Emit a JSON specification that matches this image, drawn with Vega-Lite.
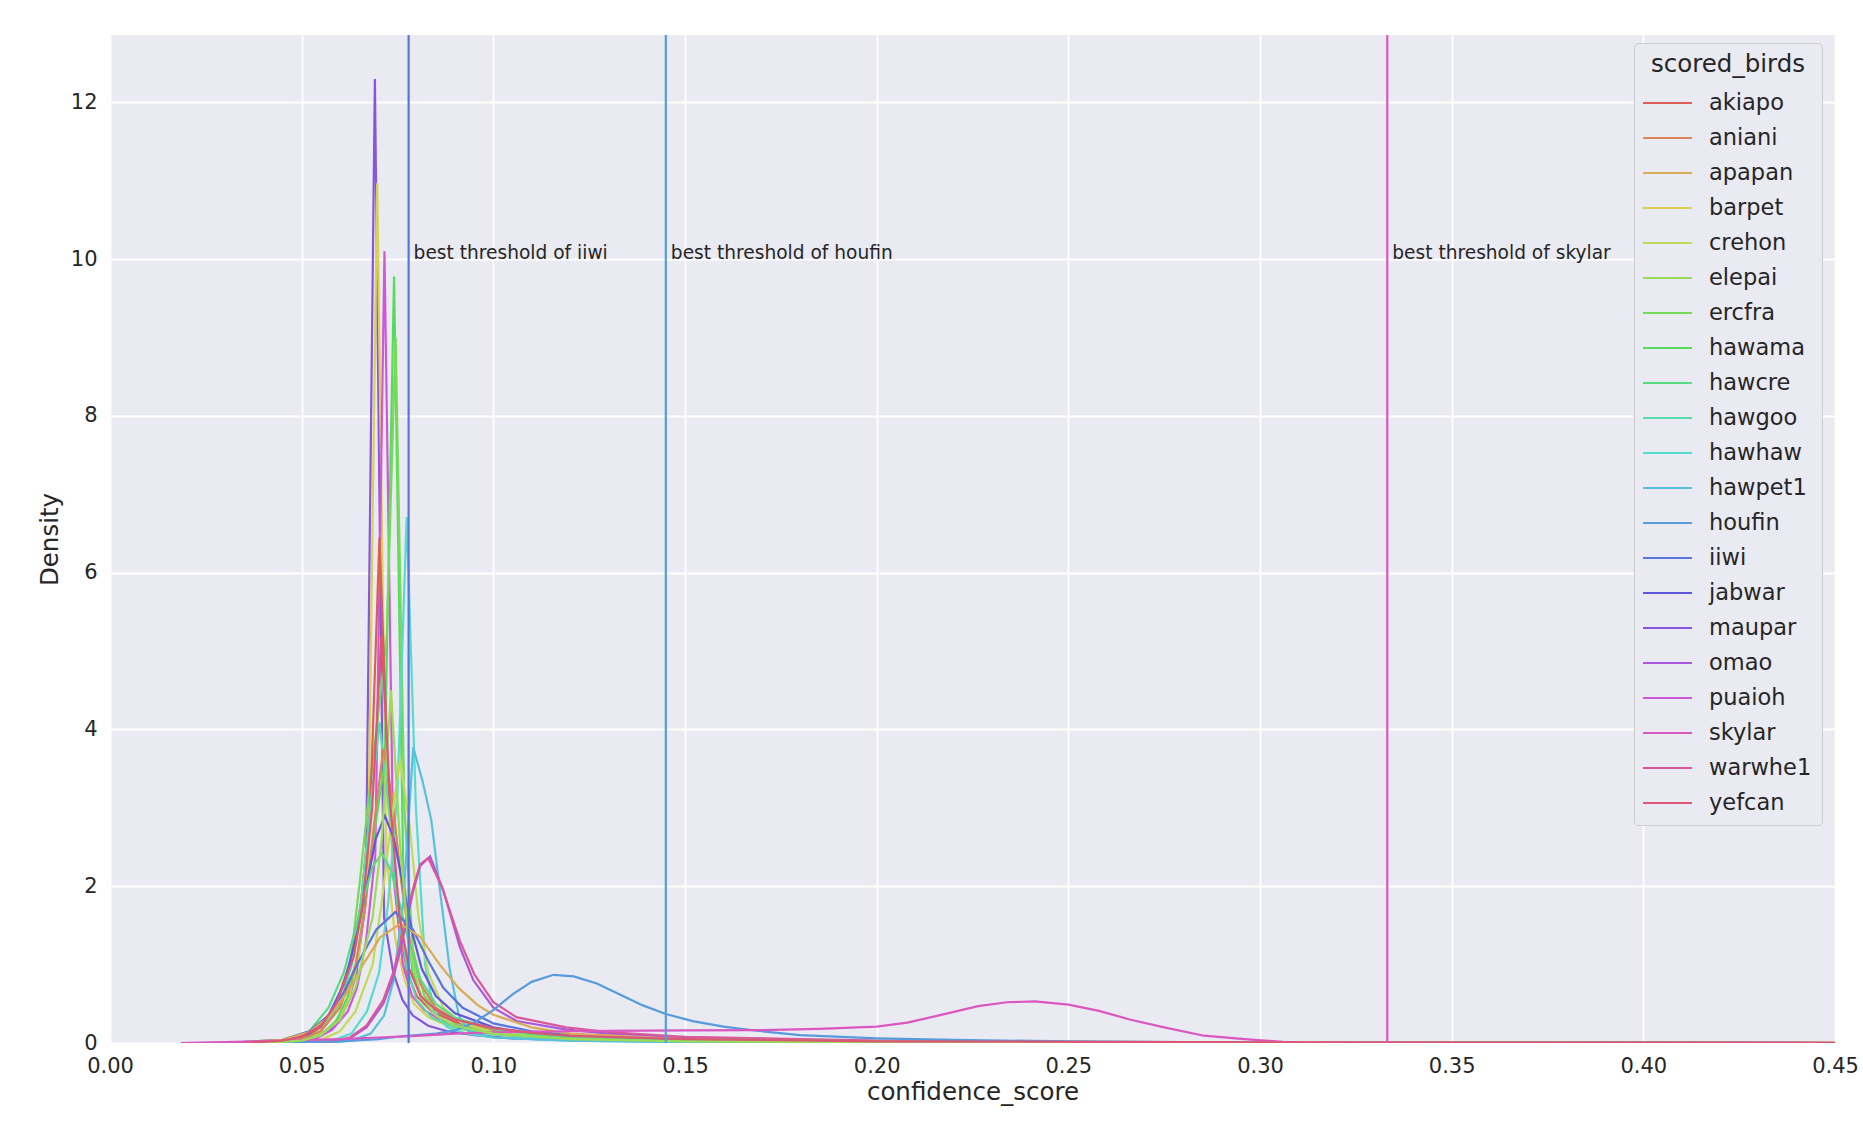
{
  "$schema": "https://vega.github.io/schema/vega-lite/v6.json",
  "width": 1725,
  "height": 1008,
  "autosize": {"type": "none"},
  "padding": {"left": 110, "top": 35, "right": 28, "bottom": 85},
  "background": "white",
  "config": {
    "font": "DejaVu Sans",
    "view": {"fill": "#eaeaf2", "stroke": null},
    "axis": {
      "domain": false, "ticks": false, "tickSize": 0,
      "gridColor": "white", "gridWidth": 1.8, "gridOpacity": 1,
      "labelColor": "#262626", "titleColor": "#262626",
      "labelFont": "DejaVu Sans", "titleFont": "DejaVu Sans",
      "labelFontSize": 21, "titleFontSize": 24.5, "titleFontWeight": "normal"
    }
  },
  "layer": [
    {
      "data": {"values": [
        {"b":"maupar","x":0.04,"y":0},{"b":"maupar","x":0.048,"y":0.02},{"b":"maupar","x":0.053,"y":0.06},{"b":"maupar","x":0.057,"y":0.15},{"b":"maupar","x":0.06,"y":0.3},{"b":"maupar","x":0.0619,"y":0.5},{"b":"maupar","x":0.0643,"y":0.9},{"b":"maupar","x":0.0667,"y":1.8},{"b":"maupar","x":0.0691,"y":12.3},{"b":"maupar","x":0.0715,"y":1.6},{"b":"maupar","x":0.0739,"y":0.9},{"b":"maupar","x":0.0763,"y":0.55},{"b":"maupar","x":0.079,"y":0.35},{"b":"maupar","x":0.083,"y":0.22},{"b":"maupar","x":0.088,"y":0.15},{"b":"maupar","x":0.095,"y":0.1},{"b":"maupar","x":0.105,"y":0.06},{"b":"maupar","x":0.12,"y":0.035},{"b":"maupar","x":0.15,"y":0.018},{"b":"maupar","x":0.2,"y":0.008},{"b":"maupar","x":0.3,"y":0.002},{"b":"maupar","x":0.45,"y":0},
        {"b":"barpet","x":0.04,"y":0},{"b":"barpet","x":0.048,"y":0.02},{"b":"barpet","x":0.053,"y":0.07},{"b":"barpet","x":0.057,"y":0.18},{"b":"barpet","x":0.06,"y":0.35},{"b":"barpet","x":0.0625,"y":0.6},{"b":"barpet","x":0.0649,"y":1.1},{"b":"barpet","x":0.0673,"y":2.3},{"b":"barpet","x":0.0697,"y":10.97},{"b":"barpet","x":0.0721,"y":2.4},{"b":"barpet","x":0.0745,"y":1.3},{"b":"barpet","x":0.0769,"y":0.8},{"b":"barpet","x":0.0793,"y":0.5},{"b":"barpet","x":0.083,"y":0.33},{"b":"barpet","x":0.088,"y":0.22},{"b":"barpet","x":0.095,"y":0.14},{"b":"barpet","x":0.105,"y":0.08},{"b":"barpet","x":0.12,"y":0.045},{"b":"barpet","x":0.15,"y":0.022},{"b":"barpet","x":0.2,"y":0.01},{"b":"barpet","x":0.3,"y":0.003},{"b":"barpet","x":0.45,"y":0},
        {"b":"puaioh","x":0.04,"y":0},{"b":"puaioh","x":0.049,"y":0.02},{"b":"puaioh","x":0.054,"y":0.06},{"b":"puaioh","x":0.058,"y":0.17},{"b":"puaioh","x":0.062,"y":0.4},{"b":"puaioh","x":0.0644,"y":0.7},{"b":"puaioh","x":0.0668,"y":1.3},{"b":"puaioh","x":0.0692,"y":2.4},{"b":"puaioh","x":0.0716,"y":10.1},{"b":"puaioh","x":0.074,"y":2.1},{"b":"puaioh","x":0.0764,"y":1.0},{"b":"puaioh","x":0.0788,"y":0.6},{"b":"puaioh","x":0.082,"y":0.42},{"b":"puaioh","x":0.086,"y":0.3},{"b":"puaioh","x":0.09,"y":0.23},{"b":"puaioh","x":0.1,"y":0.15},{"b":"puaioh","x":0.11,"y":0.1},{"b":"puaioh","x":0.12,"y":0.075},{"b":"puaioh","x":0.15,"y":0.04},{"b":"puaioh","x":0.2,"y":0.015},{"b":"puaioh","x":0.3,"y":0.004},{"b":"puaioh","x":0.45,"y":0},
        {"b":"hawama","x":0.04,"y":0},{"b":"hawama","x":0.05,"y":0.03},{"b":"hawama","x":0.055,"y":0.1},{"b":"hawama","x":0.059,"y":0.28},{"b":"hawama","x":0.0621,"y":0.6},{"b":"hawama","x":0.0645,"y":1.1},{"b":"hawama","x":0.0669,"y":1.9},{"b":"hawama","x":0.0693,"y":2.8},{"b":"hawama","x":0.0717,"y":3.6},{"b":"hawama","x":0.0741,"y":9.78},{"b":"hawama","x":0.0765,"y":2.2},{"b":"hawama","x":0.0789,"y":0.9},{"b":"hawama","x":0.082,"y":0.5},{"b":"hawama","x":0.086,"y":0.32},{"b":"hawama","x":0.09,"y":0.22},{"b":"hawama","x":0.1,"y":0.12},{"b":"hawama","x":0.12,"y":0.05},{"b":"hawama","x":0.15,"y":0.025},{"b":"hawama","x":0.2,"y":0.01},{"b":"hawama","x":0.3,"y":0.003},{"b":"hawama","x":0.45,"y":0},
        {"b":"ercfra","x":0.04,"y":0},{"b":"ercfra","x":0.048,"y":0.03},{"b":"ercfra","x":0.053,"y":0.12},{"b":"ercfra","x":0.058,"y":0.37},{"b":"ercfra","x":0.0626,"y":0.97},{"b":"ercfra","x":0.0652,"y":2.07},{"b":"ercfra","x":0.0676,"y":3.2},{"b":"ercfra","x":0.07,"y":4.2},{"b":"ercfra","x":0.0722,"y":5.2},{"b":"ercfra","x":0.0745,"y":9.0},{"b":"ercfra","x":0.0768,"y":3.0},{"b":"ercfra","x":0.079,"y":1.2},{"b":"ercfra","x":0.082,"y":0.6},{"b":"ercfra","x":0.086,"y":0.38},{"b":"ercfra","x":0.09,"y":0.26},{"b":"ercfra","x":0.1,"y":0.14},{"b":"ercfra","x":0.12,"y":0.06},{"b":"ercfra","x":0.15,"y":0.03},{"b":"ercfra","x":0.2,"y":0.012},{"b":"ercfra","x":0.3,"y":0.003},{"b":"ercfra","x":0.45,"y":0},
        {"b":"akiapo","x":0.035,"y":0},{"b":"akiapo","x":0.045,"y":0.02},{"b":"akiapo","x":0.05,"y":0.06},{"b":"akiapo","x":0.055,"y":0.2},{"b":"akiapo","x":0.059,"y":0.5},{"b":"akiapo","x":0.0631,"y":1.1},{"b":"akiapo","x":0.0655,"y":1.8},{"b":"akiapo","x":0.0679,"y":3.0},{"b":"akiapo","x":0.0703,"y":6.45},{"b":"akiapo","x":0.0727,"y":3.2},{"b":"akiapo","x":0.0751,"y":1.6},{"b":"akiapo","x":0.0775,"y":0.9},{"b":"akiapo","x":0.08,"y":0.6},{"b":"akiapo","x":0.084,"y":0.4},{"b":"akiapo","x":0.09,"y":0.27},{"b":"akiapo","x":0.1,"y":0.17},{"b":"akiapo","x":0.12,"y":0.08},{"b":"akiapo","x":0.15,"y":0.04},{"b":"akiapo","x":0.2,"y":0.018},{"b":"akiapo","x":0.3,"y":0.006},{"b":"akiapo","x":0.45,"y":0.001},
        {"b":"hawhaw","x":0.05,"y":0},{"b":"hawhaw","x":0.058,"y":0.03},{"b":"hawhaw","x":0.063,"y":0.12},{"b":"hawhaw","x":0.067,"y":0.4},{"b":"hawhaw","x":0.0702,"y":0.9},{"b":"hawhaw","x":0.0726,"y":1.8},{"b":"hawhaw","x":0.075,"y":3.2},{"b":"hawhaw","x":0.0774,"y":6.71},{"b":"hawhaw","x":0.0798,"y":3.0},{"b":"hawhaw","x":0.0822,"y":1.0},{"b":"hawhaw","x":0.0846,"y":0.4},{"b":"hawhaw","x":0.088,"y":0.2},{"b":"hawhaw","x":0.093,"y":0.12},{"b":"hawhaw","x":0.1,"y":0.07},{"b":"hawhaw","x":0.12,"y":0.03},{"b":"hawhaw","x":0.15,"y":0.012},{"b":"hawhaw","x":0.2,"y":0.004},{"b":"hawhaw","x":0.3,"y":0},{"b":"hawhaw","x":0.45,"y":0},
        {"b":"hawgoo","x":0.04,"y":0},{"b":"hawgoo","x":0.05,"y":0.04},{"b":"hawgoo","x":0.055,"y":0.15},{"b":"hawgoo","x":0.06,"y":0.5},{"b":"hawgoo","x":0.0631,"y":1.0},{"b":"hawgoo","x":0.0655,"y":1.8},{"b":"hawgoo","x":0.0679,"y":3.0},{"b":"hawgoo","x":0.0703,"y":4.09},{"b":"hawgoo","x":0.0727,"y":3.0},{"b":"hawgoo","x":0.0751,"y":1.7},{"b":"hawgoo","x":0.0775,"y":0.95},{"b":"hawgoo","x":0.08,"y":0.55},{"b":"hawgoo","x":0.084,"y":0.32},{"b":"hawgoo","x":0.09,"y":0.2},{"b":"hawgoo","x":0.1,"y":0.11},{"b":"hawgoo","x":0.12,"y":0.05},{"b":"hawgoo","x":0.15,"y":0.022},{"b":"hawgoo","x":0.2,"y":0.008},{"b":"hawgoo","x":0.3,"y":0.002},{"b":"hawgoo","x":0.45,"y":0},
        {"b":"aniani","x":0.04,"y":0},{"b":"aniani","x":0.05,"y":0.05},{"b":"aniani","x":0.055,"y":0.15},{"b":"aniani","x":0.06,"y":0.45},{"b":"aniani","x":0.0641,"y":1.0},{"b":"aniani","x":0.0665,"y":1.7},{"b":"aniani","x":0.0689,"y":2.8},{"b":"aniani","x":0.0713,"y":3.75},{"b":"aniani","x":0.0737,"y":3.1},{"b":"aniani","x":0.0761,"y":2.0},{"b":"aniani","x":0.0785,"y":1.2},{"b":"aniani","x":0.081,"y":0.75},{"b":"aniani","x":0.085,"y":0.45},{"b":"aniani","x":0.09,"y":0.3},{"b":"aniani","x":0.1,"y":0.18},{"b":"aniani","x":0.11,"y":0.12},{"b":"aniani","x":0.12,"y":0.085},{"b":"aniani","x":0.15,"y":0.045},{"b":"aniani","x":0.2,"y":0.02},{"b":"aniani","x":0.3,"y":0.006},{"b":"aniani","x":0.45,"y":0.001},
        {"b":"crehon","x":0.045,"y":0},{"b":"crehon","x":0.055,"y":0.04},{"b":"crehon","x":0.06,"y":0.15},{"b":"crehon","x":0.064,"y":0.4},{"b":"crehon","x":0.0685,"y":1.0},{"b":"crehon","x":0.0709,"y":1.8},{"b":"crehon","x":0.0733,"y":2.8},{"b":"crehon","x":0.0757,"y":3.62},{"b":"crehon","x":0.0781,"y":2.8},{"b":"crehon","x":0.0805,"y":1.6},{"b":"crehon","x":0.083,"y":0.9},{"b":"crehon","x":0.087,"y":0.45},{"b":"crehon","x":0.092,"y":0.25},{"b":"crehon","x":0.1,"y":0.14},{"b":"crehon","x":0.12,"y":0.06},{"b":"crehon","x":0.15,"y":0.025},{"b":"crehon","x":0.2,"y":0.01},{"b":"crehon","x":0.3,"y":0.002},{"b":"crehon","x":0.45,"y":0},
        {"b":"hawpet1","x":0.055,"y":0},{"b":"hawpet1","x":0.063,"y":0.03},{"b":"hawpet1","x":0.068,"y":0.12},{"b":"hawpet1","x":0.0715,"y":0.35},{"b":"hawpet1","x":0.074,"y":0.8},{"b":"hawpet1","x":0.0765,"y":1.8},{"b":"hawpet1","x":0.0791,"y":3.77},{"b":"hawpet1","x":0.0815,"y":3.35},{"b":"hawpet1","x":0.0838,"y":2.85},{"b":"hawpet1","x":0.0862,"y":1.9},{"b":"hawpet1","x":0.0886,"y":0.95},{"b":"hawpet1","x":0.091,"y":0.35},{"b":"hawpet1","x":0.0935,"y":0.15},{"b":"hawpet1","x":0.1,"y":0.07},{"b":"hawpet1","x":0.12,"y":0.03},{"b":"hawpet1","x":0.15,"y":0.012},{"b":"hawpet1","x":0.2,"y":0.004},{"b":"hawpet1","x":0.3,"y":0},{"b":"hawpet1","x":0.45,"y":0},
        {"b":"jabwar","x":0.03,"y":0},{"b":"jabwar","x":0.045,"y":0.03},{"b":"jabwar","x":0.052,"y":0.12},{"b":"jabwar","x":0.057,"y":0.35},{"b":"jabwar","x":0.061,"y":0.75},{"b":"jabwar","x":0.0645,"y":1.4},{"b":"jabwar","x":0.0669,"y":2.0},{"b":"jabwar","x":0.0693,"y":2.6},{"b":"jabwar","x":0.0717,"y":2.9},{"b":"jabwar","x":0.0741,"y":2.6},{"b":"jabwar","x":0.0765,"y":2.0},{"b":"jabwar","x":0.0789,"y":1.4},{"b":"jabwar","x":0.0813,"y":0.95},{"b":"jabwar","x":0.085,"y":0.6},{"b":"jabwar","x":0.09,"y":0.38},{"b":"jabwar","x":0.1,"y":0.2},{"b":"jabwar","x":0.11,"y":0.12},{"b":"jabwar","x":0.12,"y":0.08},{"b":"jabwar","x":0.15,"y":0.04},{"b":"jabwar","x":0.2,"y":0.015},{"b":"jabwar","x":0.3,"y":0.004},{"b":"jabwar","x":0.45,"y":0},
        {"b":"hawcre","x":0.03,"y":0},{"b":"hawcre","x":0.045,"y":0.04},{"b":"hawcre","x":0.052,"y":0.15},{"b":"hawcre","x":0.057,"y":0.45},{"b":"hawcre","x":0.061,"y":0.9},{"b":"hawcre","x":0.0645,"y":1.55},{"b":"hawcre","x":0.0685,"y":2.25},{"b":"hawcre","x":0.0709,"y":2.42},{"b":"hawcre","x":0.0733,"y":2.2},{"b":"hawcre","x":0.0757,"y":1.75},{"b":"hawcre","x":0.0781,"y":1.25},{"b":"hawcre","x":0.0805,"y":0.85},{"b":"hawcre","x":0.085,"y":0.5},{"b":"hawcre","x":0.09,"y":0.32},{"b":"hawcre","x":0.1,"y":0.18},{"b":"hawcre","x":0.11,"y":0.11},{"b":"hawcre","x":0.12,"y":0.075},{"b":"hawcre","x":0.15,"y":0.035},{"b":"hawcre","x":0.2,"y":0.012},{"b":"hawcre","x":0.3,"y":0.003},{"b":"hawcre","x":0.45,"y":0},
        {"b":"omao","x":0.05,"y":0},{"b":"omao","x":0.058,"y":0.02},{"b":"omao","x":0.0626,"y":0.06},{"b":"omao","x":0.0669,"y":0.2},{"b":"omao","x":0.0713,"y":0.5},{"b":"omao","x":0.0739,"y":0.84},{"b":"omao","x":0.0757,"y":1.18},{"b":"omao","x":0.0774,"y":1.56},{"b":"omao","x":0.0791,"y":1.94},{"b":"omao","x":0.0809,"y":2.26},{"b":"omao","x":0.0835,"y":2.38},{"b":"omao","x":0.087,"y":1.94},{"b":"omao","x":0.0913,"y":1.22},{"b":"omao","x":0.0948,"y":0.8},{"b":"omao","x":0.1,"y":0.45},{"b":"omao","x":0.1061,"y":0.28},{"b":"omao","x":0.119,"y":0.17},{"b":"omao","x":0.13,"y":0.12},{"b":"omao","x":0.15,"y":0.07},{"b":"omao","x":0.2,"y":0.025},{"b":"omao","x":0.25,"y":0.008},{"b":"omao","x":0.3,"y":0.002},{"b":"omao","x":0.45,"y":0},
        {"b":"warwhe1","x":0.05,"y":0},{"b":"warwhe1","x":0.058,"y":0.02},{"b":"warwhe1","x":0.0626,"y":0.07},{"b":"warwhe1","x":0.0669,"y":0.22},{"b":"warwhe1","x":0.0713,"y":0.55},{"b":"warwhe1","x":0.0739,"y":0.9},{"b":"warwhe1","x":0.0757,"y":1.25},{"b":"warwhe1","x":0.0774,"y":1.62},{"b":"warwhe1","x":0.0791,"y":1.98},{"b":"warwhe1","x":0.0809,"y":2.28},{"b":"warwhe1","x":0.083,"y":2.36},{"b":"warwhe1","x":0.0865,"y":2.0},{"b":"warwhe1","x":0.0913,"y":1.3},{"b":"warwhe1","x":0.095,"y":0.88},{"b":"warwhe1","x":0.1,"y":0.52},{"b":"warwhe1","x":0.106,"y":0.33},{"b":"warwhe1","x":0.119,"y":0.2},{"b":"warwhe1","x":0.13,"y":0.14},{"b":"warwhe1","x":0.15,"y":0.08},{"b":"warwhe1","x":0.2,"y":0.03},{"b":"warwhe1","x":0.25,"y":0.01},{"b":"warwhe1","x":0.3,"y":0.003},{"b":"warwhe1","x":0.45,"y":0},
        {"b":"iiwi","x":0.03,"y":0},{"b":"iiwi","x":0.045,"y":0.04},{"b":"iiwi","x":0.052,"y":0.15},{"b":"iiwi","x":0.057,"y":0.35},{"b":"iiwi","x":0.061,"y":0.65},{"b":"iiwi","x":0.065,"y":1.05},{"b":"iiwi","x":0.0695,"y":1.45},{"b":"iiwi","x":0.0744,"y":1.67},{"b":"iiwi","x":0.079,"y":1.45},{"b":"iiwi","x":0.083,"y":1.05},{"b":"iiwi","x":0.087,"y":0.7},{"b":"iiwi","x":0.092,"y":0.45},{"b":"iiwi","x":0.1,"y":0.25},{"b":"iiwi","x":0.11,"y":0.15},{"b":"iiwi","x":0.12,"y":0.1},{"b":"iiwi","x":0.15,"y":0.05},{"b":"iiwi","x":0.2,"y":0.02},{"b":"iiwi","x":0.3,"y":0.005},{"b":"iiwi","x":0.45,"y":0},
        {"b":"apapan","x":0.03,"y":0},{"b":"apapan","x":0.045,"y":0.04},{"b":"apapan","x":0.052,"y":0.14},{"b":"apapan","x":0.057,"y":0.33},{"b":"apapan","x":0.062,"y":0.65},{"b":"apapan","x":0.066,"y":1.0},{"b":"apapan","x":0.0705,"y":1.35},{"b":"apapan","x":0.0757,"y":1.52},{"b":"apapan","x":0.081,"y":1.35},{"b":"apapan","x":0.086,"y":1.0},{"b":"apapan","x":0.091,"y":0.7},{"b":"apapan","x":0.096,"y":0.48},{"b":"apapan","x":0.1,"y":0.36},{"b":"apapan","x":0.11,"y":0.2},{"b":"apapan","x":0.12,"y":0.12},{"b":"apapan","x":0.15,"y":0.05},{"b":"apapan","x":0.2,"y":0.02},{"b":"apapan","x":0.3,"y":0.005},{"b":"apapan","x":0.45,"y":0.001},
        {"b":"houfin","x":0.0185,"y":0},{"b":"houfin","x":0.04,"y":0.005},{"b":"houfin","x":0.06,"y":0.02},{"b":"houfin","x":0.07,"y":0.05},{"b":"houfin","x":0.075,"y":0.08},{"b":"houfin","x":0.08,"y":0.1},{"b":"houfin","x":0.085,"y":0.12},{"b":"houfin","x":0.09,"y":0.16},{"b":"houfin","x":0.095,"y":0.26},{"b":"houfin","x":0.1,"y":0.42},{"b":"houfin","x":0.105,"y":0.62},{"b":"houfin","x":0.11,"y":0.78},{"b":"houfin","x":0.1157,"y":0.87},{"b":"houfin","x":0.121,"y":0.85},{"b":"houfin","x":0.127,"y":0.76},{"b":"houfin","x":0.133,"y":0.62},{"b":"houfin","x":0.139,"y":0.48},{"b":"houfin","x":0.145,"y":0.37},{"b":"houfin","x":0.152,"y":0.28},{"b":"houfin","x":0.16,"y":0.21},{"b":"houfin","x":0.17,"y":0.15},{"b":"houfin","x":0.18,"y":0.1},{"b":"houfin","x":0.2,"y":0.06},{"b":"houfin","x":0.22,"y":0.04},{"b":"houfin","x":0.25,"y":0.02},{"b":"houfin","x":0.28,"y":0.01},{"b":"houfin","x":0.3,"y":0.005},{"b":"houfin","x":0.35,"y":0.001},{"b":"houfin","x":0.45,"y":0},
        {"b":"skylar","x":0.0185,"y":0},{"b":"skylar","x":0.03,"y":0.01},{"b":"skylar","x":0.045,"y":0.03},{"b":"skylar","x":0.06,"y":0.05},{"b":"skylar","x":0.07,"y":0.07},{"b":"skylar","x":0.08,"y":0.09},{"b":"skylar","x":0.09,"y":0.12},{"b":"skylar","x":0.1,"y":0.135},{"b":"skylar","x":0.11,"y":0.145},{"b":"skylar","x":0.12,"y":0.15},{"b":"skylar","x":0.13,"y":0.155},{"b":"skylar","x":0.15,"y":0.16},{"b":"skylar","x":0.17,"y":0.165},{"b":"skylar","x":0.185,"y":0.18},{"b":"skylar","x":0.2,"y":0.21},{"b":"skylar","x":0.208,"y":0.26},{"b":"skylar","x":0.216,"y":0.35},{"b":"skylar","x":0.2265,"y":0.47},{"b":"skylar","x":0.234,"y":0.52},{"b":"skylar","x":0.2413,"y":0.53},{"b":"skylar","x":0.25,"y":0.49},{"b":"skylar","x":0.258,"y":0.41},{"b":"skylar","x":0.266,"y":0.3},{"b":"skylar","x":0.275,"y":0.2},{"b":"skylar","x":0.2854,"y":0.093},{"b":"skylar","x":0.296,"y":0.05},{"b":"skylar","x":0.306,"y":0.015},{"b":"skylar","x":0.32,"y":0.004},{"b":"skylar","x":0.35,"y":0},{"b":"skylar","x":0.45,"y":0},
        {"b":"elepai","x":0.04,"y":0},{"b":"elepai","x":0.05,"y":0.03},{"b":"elepai","x":0.055,"y":0.1},{"b":"elepai","x":0.06,"y":0.3},{"b":"elepai","x":0.064,"y":0.7},{"b":"elepai","x":0.0685,"y":1.6},{"b":"elepai","x":0.0709,"y":2.6},{"b":"elepai","x":0.0733,"y":4.5},{"b":"elepai","x":0.0757,"y":2.5},{"b":"elepai","x":0.0781,"y":1.2},{"b":"elepai","x":0.081,"y":0.6},{"b":"elepai","x":0.085,"y":0.35},{"b":"elepai","x":0.09,"y":0.22},{"b":"elepai","x":0.1,"y":0.12},{"b":"elepai","x":0.12,"y":0.05},{"b":"elepai","x":0.15,"y":0.022},{"b":"elepai","x":0.2,"y":0.008},{"b":"elepai","x":0.3,"y":0.002},{"b":"elepai","x":0.45,"y":0},
        {"b":"yefcan","x":0.035,"y":0},{"b":"yefcan","x":0.045,"y":0.03},{"b":"yefcan","x":0.05,"y":0.08},{"b":"yefcan","x":0.055,"y":0.22},{"b":"yefcan","x":0.059,"y":0.5},{"b":"yefcan","x":0.0636,"y":1.1},{"b":"yefcan","x":0.066,"y":1.8},{"b":"yefcan","x":0.0684,"y":3.0},{"b":"yefcan","x":0.0708,"y":5.2},{"b":"yefcan","x":0.0732,"y":3.0},{"b":"yefcan","x":0.0756,"y":1.6},{"b":"yefcan","x":0.078,"y":0.95},{"b":"yefcan","x":0.081,"y":0.6},{"b":"yefcan","x":0.085,"y":0.42},{"b":"yefcan","x":0.09,"y":0.3},{"b":"yefcan","x":0.1,"y":0.19},{"b":"yefcan","x":0.11,"y":0.13},{"b":"yefcan","x":0.12,"y":0.09},{"b":"yefcan","x":0.15,"y":0.05},{"b":"yefcan","x":0.2,"y":0.022},{"b":"yefcan","x":0.3,"y":0.008},{"b":"yefcan","x":0.45,"y":0.002}
      ]},
      "mark": {"type": "line", "strokeWidth": 2.2, "interpolate": "linear", "clip": true},
      "encoding": {
        "x": {"field": "x", "type": "quantitative",
              "scale": {"domain": [0, 0.45], "nice": false, "zero": false},
              "axis": {"title": "confidence_score", "values": [0,0.05,0.1,0.15,0.2,0.25,0.3,0.35,0.4,0.45], "format": ".2f", "labelPadding": 12, "titlePadding": 4, "labelFlush": false}},
        "y": {"field": "y", "type": "quantitative",
              "scale": {"domain": [0, 12.86], "nice": false},
              "axis": {"title": "Density", "values": [0,2,4,6,8,10,12], "format": "d", "labelPadding": 13, "titlePadding": 8}},
        "color": {"field": "b", "type": "nominal",
          "scale": {
            "domain": ["akiapo","aniani","apapan","barpet","crehon","elepai","ercfra","hawama","hawcre","hawgoo","hawhaw","hawpet1","houfin","iiwi","jabwar","maupar","omao","puaioh","skylar","warwhe1","yefcan"],
            "range": ["#db5f57","#db8557","#dbaa57","#dbd057","#c0db57","#9bdb57","#75db57","#57db5f","#57db85","#57dbaa","#57dbd0","#57c0db","#579bdb","#5775db","#5f57db","#8557db","#aa57db","#d057db","#db57c0","#db579b","#db5775"]
          },
          "legend": {
            "title": "scored_birds", "orient": "none", "legendX": 1524, "legendY": 8,
            "fillColor": "#eaeaf2", "strokeColor": "#cccccc", "cornerRadius": 4, "padding": 10,
            "titleFontSize": 24.5, "titleFontWeight": "normal", "titleColor": "#262626", "titleAnchor": "middle", "titlePadding": 14,
            "labelFontSize": 22.5, "labelColor": "#262626",
            "symbolType": "M-2.45,0H2.45", "symbolSize": 400, "symbolStrokeWidth": 2.2, "symbolOffset": 12,
            "labelOffset": 30, "rowPadding": 12
          }
        }
      }
    },
    {
      "data": {"values": [
        {"b": "iiwi", "t": 0.0779, "label": "best threshold of iiwi"},
        {"b": "houfin", "t": 0.145, "label": "best threshold of houfin"},
        {"b": "skylar", "t": 0.3332, "label": "best threshold of skylar"}
      ]},
      "layer": [
        {
          "mark": {"type": "rule", "strokeWidth": 2.2},
          "encoding": {
            "x": {"field": "t", "type": "quantitative"},
            "color": {"field": "b", "type": "nominal"}
          }
        },
        {
          "mark": {"type": "text", "align": "left", "baseline": "alphabetic", "dx": 5, "fontSize": 18.6, "color": "#262626", "font": "DejaVu Sans"},
          "encoding": {
            "x": {"field": "t", "type": "quantitative"},
            "y": {"datum": 10},
            "text": {"field": "label"}
          }
        }
      ]
    }
  ]
}
